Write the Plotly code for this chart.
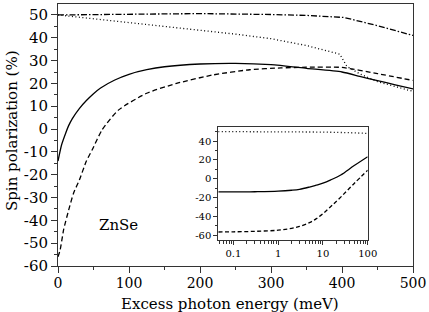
import plotly.graph_objects as go
import numpy as np

# ---- main panel data (meV, %) ----
solid_x = [0, 5, 10, 15, 20, 30, 40, 50, 60, 80, 100, 125, 150, 200, 250, 300, 350, 400, 425, 450, 475, 500]
solid_y = [-14, -7, -2.5, 1.5, 4.5, 9, 12.5, 15.5, 18, 21.5, 24, 26, 27.3, 28.5, 28.8, 28.2, 26.6, 25.0, 23.1, 21.2, 19.4, 17.6]

dashed_x = [0, 3, 8, 15, 22, 30, 40, 48, 62, 85, 125, 167, 218, 270, 314, 350, 400, 450, 500]
dashed_y = [-56, -53, -44, -35.5, -28, -22.4, -14, -9.2, -0.4, 8.3, 15.7, 20, 23.7, 26, 26.8, 27.1, 27.0, 24.3, 21.3]

dotted_x = [0, 50, 100, 150, 200, 250, 300, 350, 380, 397, 407, 425, 450, 475, 500]
dotted_y = [50, 48.3, 46.6, 45.1, 43.5, 41.6, 39.6, 36.6, 34.2, 32.8, 27.4, 24.2, 20.8, 18.6, 16.5]

dashdot_x = [0, 100, 200, 300, 350, 403, 450, 500]
dashdot_y = [50, 50.4, 50.6, 50.2, 49.8, 48.9, 45.3, 41.0]

# ---- inset data (log energy axis) ----
in_x = [0.046, 0.1, 0.3, 1, 2, 3, 5, 7, 10, 15, 25, 50, 100]
in_solid = [-14, -14, -13.8, -13.2, -12.2, -11.2, -8.8, -6.9, -4.7, -1.2, 4, 14, 23.4]
in_dashed = [-56.5, -56.3, -55.8, -54.6, -52.6, -50.6, -46.6, -42.6, -37, -29.5, -19.5, -5, 9]
in_dotted_x = [0.046, 1, 10, 50, 100]
in_dotted = [50, 49.9, 49.5, 48.7, 48.1]

main_yticks = [-60, -50, -40, -30, -20, -10, 0, 10, 20, 30, 40, 50]
main_xticks = [0, 100, 200, 300, 400, 500]
in_yticks = [-60, -40, -20, 0, 20, 40]
in_xticks = [0.1, 1, 10, 100]
in_xticklabels = ["0.1", "1", "10", "100"]

x_title = "Excess photon energy (meV)"
y_title = "Spin polarization (%)"
label_text = "ZnSe"

FONT = "DejaVu Serif"
AX = "#333333"

def lab(v):
    return str(v)

fig = go.Figure()
lw = 1.3
fig.add_trace(go.Scatter(x=solid_x, y=solid_y, mode="lines", line=dict(color="black", width=lw, shape="spline", smoothing=0.6)))
fig.add_trace(go.Scatter(x=dashed_x, y=dashed_y, mode="lines", line=dict(color="black", width=lw, dash="5px,3px", shape="spline", smoothing=0.6)))
fig.add_trace(go.Scatter(x=dotted_x, y=dotted_y, mode="lines", line=dict(color="black", width=lw, dash="1px,2.5px")))
fig.add_trace(go.Scatter(x=dashdot_x, y=dashdot_y, mode="lines", line=dict(color="black", width=lw, dash="6px,2px,1.5px,2px")))

fig.add_trace(go.Scatter(x=in_x, y=in_solid, xaxis="x2", yaxis="y2", mode="lines", line=dict(color="black", width=lw, shape="spline", smoothing=1.0)))
fig.add_trace(go.Scatter(x=in_x, y=in_dashed, xaxis="x2", yaxis="y2", mode="lines", line=dict(color="black", width=lw, dash="4px,2.5px", shape="spline", smoothing=1.0)))
fig.add_trace(go.Scatter(x=in_dotted_x, y=in_dotted, xaxis="x2", yaxis="y2", mode="lines", line=dict(color="black", width=lw, dash="1px,2.5px")))

fig.update_layout(
    width=429, height=312,
    margin=dict(l=58, r=16, t=4, b=46, autoexpand=False),
    paper_bgcolor="white", plot_bgcolor="white",
    showlegend=False,
    font=dict(family=FONT, color="black"),
    xaxis=dict(
        range=[0, 500], tickvals=main_xticks, ticktext=[lab(v) for v in main_xticks],
        ticks="outside", ticklen=6, tickcolor=AX, showline=True, linecolor=AX, linewidth=1,
        mirror=True, showgrid=False, zeroline=False, tickfont=dict(size=14), automargin=False,
        ticklabelstandoff=-2,
        minor=dict(ticks="outside", ticklen=3, dtick=50, tickcolor=AX, showgrid=False),
    ),
    yaxis=dict(
        range=[-60, 54.8], tickvals=main_yticks, ticktext=[lab(v) for v in main_yticks],
        ticks="outside", ticklen=6, tickcolor=AX, showline=True, linecolor=AX, linewidth=1,
        mirror=True, showgrid=False, zeroline=False, tickfont=dict(size=15), automargin=False,
        minor=dict(ticks="outside", ticklen=3, dtick=5, tickcolor=AX, showgrid=False),
    ),
    xaxis2=dict(
        type="log", domain=[0.4515, 0.8724], anchor="y2",
        range=[np.log10(0.046), 2], tickvals=in_xticks, ticktext=in_xticklabels,
        ticks="outside", ticklen=4, tickcolor=AX, showline=True, linecolor=AX, linewidth=1,
        mirror=True, showgrid=False, zeroline=False, tickfont=dict(size=10), automargin=False,
        minor=dict(ticks="outside", ticklen=2.5, dtick="D1", tickcolor=AX, showgrid=False),
    ),
    yaxis2=dict(
        domain=[0.0992, 0.5317], anchor="x2",
        range=[-65, 55.2], tickvals=in_yticks, ticktext=[lab(v) for v in in_yticks],
        ticks="outside", ticklen=4, tickcolor=AX, showline=True, linecolor=AX, linewidth=1,
        mirror=True, showgrid=False, zeroline=False, tickfont=dict(size=10), automargin=False,
        minor=dict(ticks="outside", ticklen=2.5, dtick=10, tickcolor=AX, showgrid=False),
    ),
    annotations=[
        dict(x=85, y=-42, xref="x", yref="y", text=label_text, showarrow=False,
             font=dict(size=15, family=FONT, color="black")),
        dict(x=0.4845, y=-0.1435, xref="paper", yref="paper", text=x_title, showarrow=False,
             xanchor="center", yanchor="middle", font=dict(size=15, family=FONT, color="black")),
        dict(x=-0.1296, y=0.519, xref="paper", yref="paper", text=y_title, showarrow=False,
             textangle=-90, xanchor="center", yanchor="middle", font=dict(size=15, family=FONT, color="black")),
    ],
)

fig.write_html("out.html", config={"displayModeBar": False},
               post_script="document.body.style.margin='0';document.body.style.overflow='hidden';")
